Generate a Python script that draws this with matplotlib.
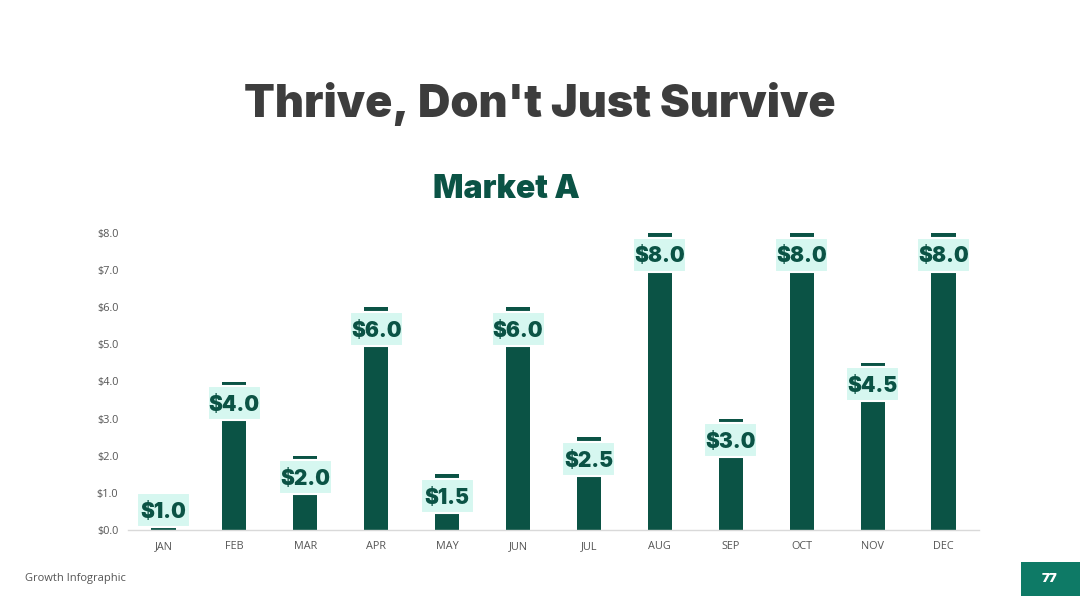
#!/usr/bin/env python3
"""Growth infographic slide: monthly bar chart for Market A."""
import numpy as np
import matplotlib
matplotlib.use('Agg')
import matplotlib.pyplot as plt
from matplotlib.patches import Rectangle

months = ['JAN', 'FEB', 'MAR', 'APR', 'MAY', 'JUN', 'JUL', 'AUG', 'SEP', 'OCT', 'NOV', 'DEC']
values = [1.0, 4.0, 2.0, 6.0, 1.5, 6.0, 2.5, 8.0, 3.0, 8.0, 4.5, 8.0]
yticks = [0, 1, 2, 3, 4, 5, 6, 7, 8]

COL = {
    'bar': '#0B5345',
    'box': '#D6F7F0',
    'title': '#3D3D3D',
    'tick': '#555555',
    'axis': '#D9D9D9',
    'page': '#0E7A66',
}
HEAVY = ['Inter', 'DejaVu Sans']
LIGHT = ['Open Sans', 'DejaVu Sans']


def main():
    W, H = 1080, 608
    fig = plt.figure(figsize=(W / 100, H / 100), dpi=100, facecolor='white')
    ax = fig.add_axes([128 / W, 1 - 530 / H, (979 - 128) / W, (530 - 233) / H])

    x = np.arange(len(months))
    ax.bar(x, values, width=0.34, color=COL['bar'], zorder=2)
    ax.set_xlim(-0.5, len(months) - 0.5)
    ax.set_ylim(0, 8)

    ax.set_yticks(yticks, [f'${v:.1f}' for v in yticks])
    ax.set_xticks(x, months)
    ax.tick_params(length=0, labelsize=7.8, colors=COL['tick'])
    ax.tick_params(axis='x', pad=8)
    ax.tick_params(axis='y', pad=7)
    for lbl in ax.get_xticklabels() + ax.get_yticklabels():
        lbl.set_family(LIGHT)
    for s in ['top', 'right', 'left']:
        ax.spines[s].set_visible(False)
    ax.spines['bottom'].set_color(COL['axis'])
    ax.spines['bottom'].set_linewidth(1.0)

    # value labels in pale boxes just under the top of each bar (box size in pixels)
    p0 = ax.transData.transform((0, 0))
    p1 = ax.transData.transform((1, 1))
    ux, uy = p1[0] - p0[0], p1[1] - p0[1]
    bw, bh, gap = 53 / ux, 34 / uy, 4.5 / uy
    for xi, v in zip(x, values):
        top = max(v - gap, bh + 3.5 / uy)
        ax.add_patch(Rectangle((xi - bw / 2, top - bh), bw, bh, fc=COL['box'],
                               ec='white', lw=1.5, zorder=3))
        ax.text(xi, top - bh / 2, f'${v:.1f}', ha='center', va='center_baseline',
                fontsize=15, fontweight=900, family=HEAVY, color=COL['bar'], zorder=4)

    fig.text(0.5, 1 - 104 / H, "Thrive, Don't Just Survive", ha='center', va='center',
             fontsize=32.3, fontweight=900, family=HEAVY, color=COL['title'])
    fig.text(506 / W, 1 - 190 / H, 'Market A', ha='center', va='center',
             fontsize=23, fontweight=900, family=HEAVY, color=COL['bar'])

    fig.text(25 / W, 1 - 579 / H, 'Growth Infographic', ha='left', va='center',
             fontsize=8, family=LIGHT, color=COL['tick'])
    fig.add_artist(Rectangle((1021 / W, 1 - 596 / H), 59 / W, 34 / H,
                             transform=fig.transFigure, fc=COL['page'], ec='none'))
    fig.text(1050 / W, 1 - 579 / H, '77', ha='center', va='center', fontsize=9.5,
             fontweight=900, family=HEAVY, color='white')

    fig.savefig('out.png', dpi=100, facecolor='white')
    plt.close(fig)


if __name__ == '__main__':
    main()
